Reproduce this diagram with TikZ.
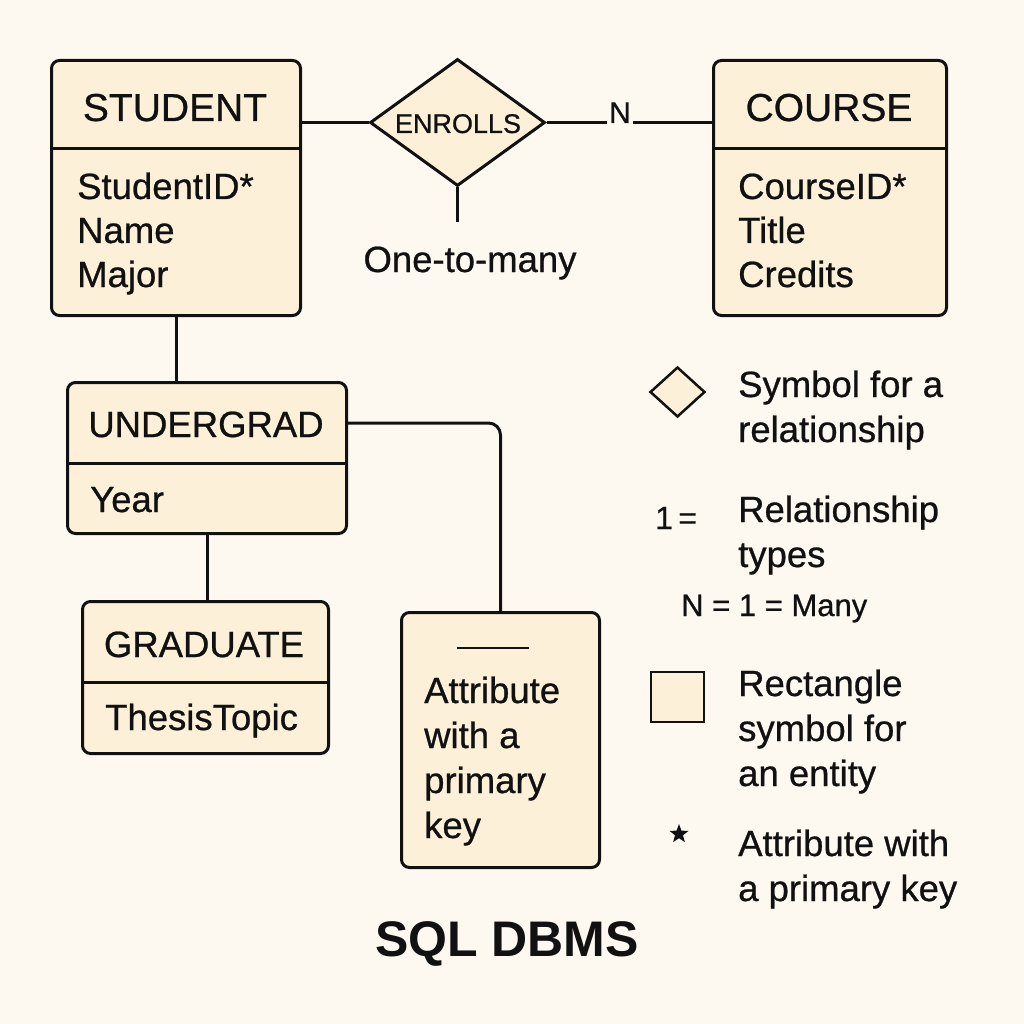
\documentclass[tikz,border=0pt]{standalone}
\usepackage{fontspec}
% medium weight: the regular face slightly emboldened
\setmainfont{Liberation Sans}[BoldFont=Liberation Sans,BoldFeatures={FakeBold=0.7}]
\newfontfamily\heavyfont{Liberation Sans}
\usetikzlibrary{shapes.geometric}
\definecolor{paper}{HTML}{FEF9F0}
\definecolor{boxfill}{HTML}{FDF0D8}
\definecolor{ink}{HTML}{111111}
\newcommand{\fs}[1]{\fontsize{#1}{#1}\selectfont}
\begin{document}
\begin{tikzpicture}[x=1pt,y=-1pt,
  every node/.style={text=ink},
  entity/.style={draw=ink,line width=3pt,rounded corners=8pt,fill=boxfill,
    anchor=north west,inner sep=0pt},
  relbox/.style={draw=ink,line width=3pt,fill=boxfill,shape=diamond,inner sep=0pt},
  link/.style={draw=ink,line width=3pt},
  title/.style={font=\fs{39}\bfseries,anchor=base,inner sep=0pt},
  attr/.style={font=\fs{36.5}\bfseries,anchor=base west,inner sep=0pt},
  legtext/.style={font=\fs{36.5}\bfseries,anchor=base west,inner sep=0pt}]
\useasboundingbox[fill=paper] (0,0) rectangle (1024,1024);

% ---- entity boxes ----
\node[entity,minimum width=249pt,minimum height=255pt] (stu) at (50,59) {};
\draw[link] (stu.west |- 0,149) -- (stu.east |- 0,149);
\node[title] (stut) at (175,121) {STUDENT};
\node[attr] (stua1) at (77,199) {StudentID*};
\node[attr] (stua2) at (77,243) {Name};
\node[attr] (stua3) at (77,287) {Major};

\node[entity,minimum width=233pt,minimum height=255pt] (crs) at (712,59) {};
\draw[link] (crs.west |- 0,149) -- (crs.east |- 0,149);
\node[title] (crst) at (829,121) {COURSE};
\node[attr] (crsa1) at (738,199) {CourseID*};
\node[attr] (crsa2) at (738,243) {Title};
\node[attr] (crsa3) at (738,287) {Credits};

\node[entity,minimum width=279pt,minimum height=151pt] (ug) at (66,381) {};
\draw[link] (ug.west |- 0,463) -- (ug.east |- 0,463);
\node[title,font=\fs{36.5}\bfseries] (ugt) at (206,437) {UNDERGRAD};
\node[attr] (uga1) at (90,512) {Year};

\node[entity,minimum width=246pt,minimum height=152pt] (grad) at (81,600) {};
\draw[link] (grad.west |- 0,682) -- (grad.east |- 0,682);
\node[title,font=\fs{36.5}\bfseries] (gradt) at (204,657) {GRADUATE};
\node[attr] (grada1) at (105,730) {ThesisTopic};

\node[entity,minimum width=198pt,minimum height=255pt] (pk) at (400,611) {};
\draw[link,line width=2.5pt] (457,648) -- (529,648);
\node[attr] (pk1) at (424,703) {Attribute};
\node[attr] (pk2) at (424,748) {with a};
\node[attr] (pk3) at (424,793) {primary};
\node[attr] (pk4) at (424,838) {key};

% ---- relationship ----
\node[relbox,minimum width=175pt,minimum height=127pt] (enr) at (457.5,122.5) {};
\node[font=\fs{27}\bfseries,inner sep=0pt,anchor=base] (enrt) at (458,133) {ENROLLS};
\node[font=\fs{30}\bfseries,inner sep=1.5pt,anchor=base] (nlab) at (620,123) {N};
\coordinate (stem) at (457.5,222);
\node[font=\fs{36.5}\bfseries,inner sep=0pt,anchor=base] (card) at (470,272) {One-to-many};

% ---- connectors ----
\draw[link] (stu.east |- enr.west) -- (enr.west);
\draw[link] (enr.east) -- (enr.east -| nlab.west);
\draw[link] (enr.east -| nlab.east) -- (enr.east -| crs.west);
\draw[link] (enr.south) -- (stem);
\draw[link] (stu.south) -- (stu.south |- ug.north);
\draw[link] (ug.south) -- (ug.south |- grad.north);
\draw[link,rounded corners=12pt] (ug.east |- 0,423) -- (pk.north |- 0,423) -- (pk.north);

% ---- legend ----
\node[relbox,line width=2.5pt,minimum width=55pt,minimum height=50pt] (legrel) at (677.5,392) {};
\node[legtext] (lg1a) at (738,397) {Symbol for a};
\node[legtext] (lg1b) at (738,442) {relationship};

\node[font=\fs{32}\bfseries,inner sep=0pt,anchor=base west] (lgone) at (655,529) {1\,=};
\node[legtext] (lg2a) at (738,522) {Relationship};
\node[legtext] (lg2b) at (738,567) {types};
\node[font=\fs{31}\bfseries,inner sep=0pt,anchor=base west] (lgmany) at (681,616) {N = 1 = Many};

\node[draw=ink,line width=2.5pt,fill=boxfill,minimum width=53pt,minimum height=50pt,
  inner sep=0pt] (legent) at (677.5,697) {};
\node[legtext] (lg3a) at (738,696) {Rectangle};
\node[legtext] (lg3b) at (738,741) {symbol for};
\node[legtext] (lg3c) at (738,786) {an entity};

\node[shape=star,star points=5,star point ratio=2.4,fill=ink,inner sep=0pt,
  minimum size=20pt] (legstar) at (679,834) {};
\node[legtext] (lg4a) at (738,856) {Attribute with};
\node[legtext] (lg4b) at (738,901) {a primary key};

% ---- caption ----
\node[font=\fs{50}\heavyfont\bfseries,inner sep=0pt,anchor=base] (cap) at (507,956) {SQL DBMS};
\end{tikzpicture}
\end{document}
